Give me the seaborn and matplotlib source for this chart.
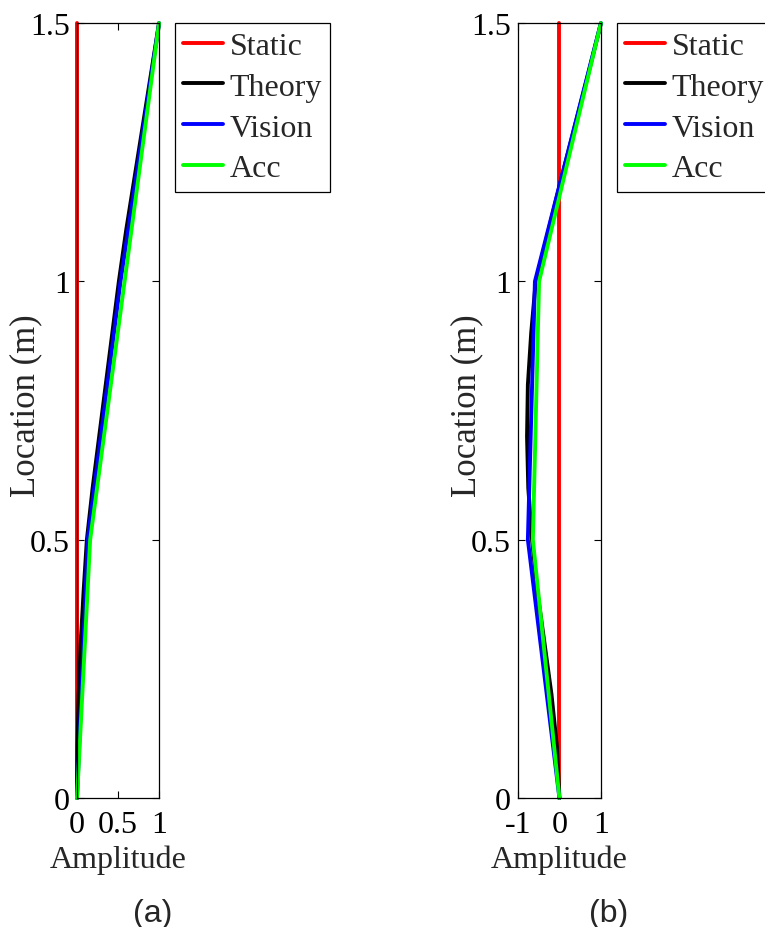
import numpy as np
import pandas as pd
import matplotlib
matplotlib.use("Agg")
import matplotlib.pyplot as plt
import seaborn as sns

# knot locations of the measured shapes (m)
y_knots = [0.0, 0.5, 1.0, 1.5]
# denser locations for the theoretical curve
y_theory = [0.0, 0.1, 0.2, 0.3, 0.4, 0.5, 0.6, 0.7, 0.8, 0.9, 1.0, 1.1, 1.2, 1.3, 1.4, 1.5]

# panel (a) - first mode
static_a = [0.0, 0.0, 0.0, 0.0]
vision_a = [0.0, 0.13, 0.53, 1.0]
acc_a = [0.0, 0.16, 0.58, 1.0]
theory_a = [0.0, 0.005, 0.02, 0.045, 0.08, 0.12, 0.19, 0.27, 0.35, 0.43, 0.51, 0.60, 0.70, 0.80, 0.90, 1.0]

# panel (b) - second mode
static_b = [0.0, 0.0, 0.0, 0.0]
vision_b = [0.0, -0.76, -0.59, 1.0]
acc_b = [0.0, -0.64, -0.49, 1.0]
theory_b = [0.0, -0.06, -0.19, -0.36, -0.53, -0.66, -0.75, -0.78, -0.76, -0.68, -0.57, -0.26, 0.05, 0.37, 0.69, 1.0]

series_names = ["Static", "Theory", "Vision", "Acc"]
series_colors = ["#ff0000", "#000000", "#0000ff", "#00ff00"]
y_tick_vals = [0, 0.5, 1, 1.5]
y_tick_labels = ["0", "0.5", "1", "1.5"]
x_ticks_a = [0, 0.5, 1]
x_tick_labels_a = ["0", "0.5", "1"]
x_ticks_b = [-1, 0, 1]
x_tick_labels_b = ["-1", "0", "1"]


def build_frame(static, theory, vision, acc):
    parts = [
        pd.DataFrame({"amp": static, "loc": y_knots, "series": "Static"}),
        pd.DataFrame({"amp": theory, "loc": y_theory, "series": "Theory"}),
        pd.DataFrame({"amp": vision, "loc": y_knots, "series": "Vision"}),
        pd.DataFrame({"amp": acc, "loc": y_knots, "series": "Acc"}),
    ]
    return pd.concat(parts, ignore_index=True)


sns.set_style("ticks")
plt.rcParams["font.family"] = ["Liberation Serif", "DejaVu Serif"]
fs = 23

fig = plt.figure(figsize=(7.65, 9.28), dpi=100)
ax_a = fig.add_axes([0.1007, 0.139, 0.1072, 0.835])
ax_b = fig.add_axes([0.677, 0.139, 0.1085, 0.835])

panels = [
    (ax_a, build_frame(static_a, theory_a, vision_a, acc_a), (0, 1), x_ticks_a, x_tick_labels_a, 0.2288),
    (ax_b, build_frame(static_b, theory_b, vision_b, acc_b), (-1, 1), x_ticks_b, x_tick_labels_b, 0.8065),
]

for ax, df, xlim, xt, xtl, leg_x in panels:
    sns.lineplot(data=df, x="amp", y="loc", hue="series", hue_order=series_names,
                 palette=series_colors, estimator=None, sort=False, orient="y",
                 linewidth=2.8, clip_on=False, ax=ax)
    ax.set_xlim(*xlim)
    ax.set_ylim(0, 1.5)
    ax.set_xticks(xt)
    ax.set_xticklabels(xtl)
    ax.set_yticks(y_tick_vals)
    ax.set_yticklabels(y_tick_labels)
    ax.tick_params(direction="in", top=True, right=True, length=5, width=0.8,
                   labelsize=fs, colors="black")
    ax.tick_params(axis="x", pad=8.5)
    ax.tick_params(axis="y", pad=5)
    for sp in ax.spines.values():
        sp.set_visible(True)
        sp.set_linewidth(0.9)
        sp.set_color("black")
    ax.set_xlabel("Amplitude", fontsize=fs, labelpad=4)
    ax.set_ylabel("Location (m)", fontsize=25)
    ax.yaxis.set_label_coords(-0.42, 0.508)
    handles, labels = ax.get_legend_handles_labels()
    ax.legend(handles, labels, loc="upper left", bbox_to_anchor=(leg_x, 0.974),
              bbox_transform=fig.transFigure, fontsize=fs, frameon=True, fancybox=False,
              edgecolor="black", framealpha=1, borderpad=0.26, labelspacing=0.36,
              handlelength=1.25, handletextpad=0.2, borderaxespad=0)
    ax.get_legend().get_frame().set_linewidth(0.9)

fig.text(0.199, 0.015, "(a)", fontsize=fs, family=["Liberation Sans", "DejaVu Sans"],
         ha="center", va="center")
fig.text(0.795, 0.015, "(b)", fontsize=fs, family=["Liberation Sans", "DejaVu Sans"],
         ha="center", va="center")

fig.savefig("out.png", dpi=100)
